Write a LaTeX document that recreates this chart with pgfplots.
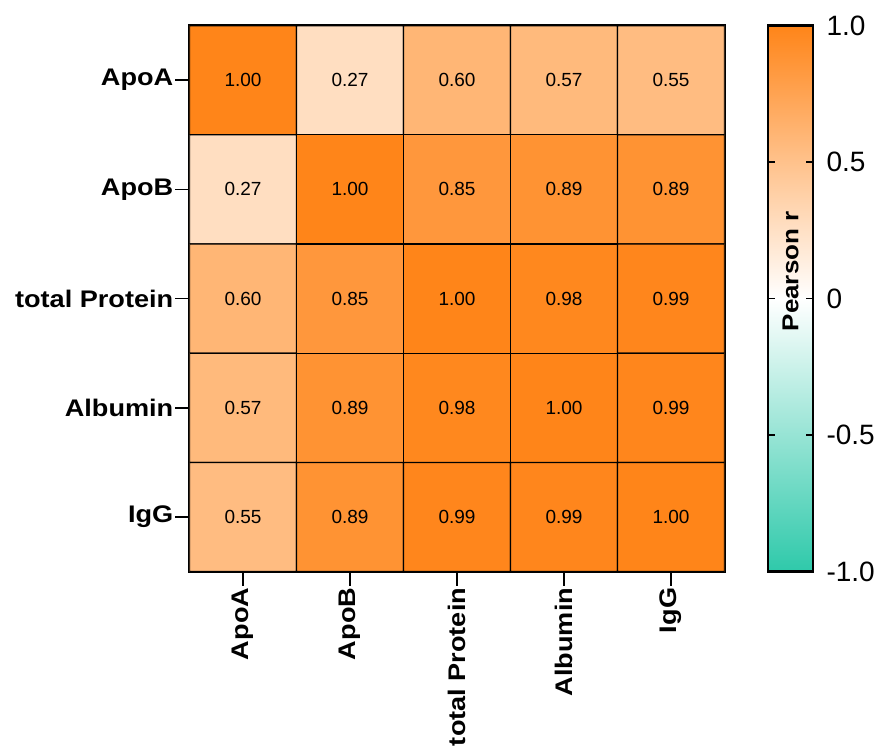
\documentclass[border=0pt]{standalone}
\usepackage{pgfplots}
\pgfplotsset{compat=1.18}
\usepackage{fontspec}
\setmainfont{Liberation Sans}
\newfontfamily\labfont[FakeStretch=1.13]{Liberation Sans}
\pgfplotstableread{
x y r
0 0 1.00
1 0 0.27
2 0 0.60
3 0 0.57
4 0 0.55
0 1 0.27
1 1 1.00
2 1 0.85
3 1 0.89
4 1 0.89
0 2 0.60
1 2 0.85
2 2 1.00
3 2 0.98
4 2 0.99
0 3 0.57
1 3 0.89
2 3 0.98
3 3 1.00
4 3 0.99
0 4 0.55
1 4 0.89
2 4 0.99
3 4 0.99
4 4 1.00
}\corr
\pgfplotstableread{
x y
0 -1
1 -1
0 1
1 1
}\cbar
\pgfplotsset{colormap={pr}{rgb255=(46,201,170) rgb255=(255,255,255) rgb255=(255,133,25)}}
\begin{document}
\begin{tikzpicture}
\path[use as bounding box] (-189.5pt,-177.4pt) rectangle (690.5pt,571.6pt);
\begin{axis}[
  at={(0pt,0pt)}, anchor=south west,
  scale only axis, width=535pt, height=546pt,
  xmin=-0.5, xmax=4.5, ymin=-0.5, ymax=4.5,
  y dir=reverse,
  xtick={0,...,4}, ytick={0,...,4},
  xticklabels={ApoA,ApoB,total Protein,Albumin,IgG},
  yticklabels={ApoA,ApoB,total Protein,Albumin,IgG},
  tick align=outside, major tick length=14pt,
  xtick pos=bottom, ytick pos=left,
  tick style={black, line width=1.6pt},
  axis line style={line width=2.5pt},
  x tick label style={rotate=90, anchor=east, font=\labfont\fontsize{24}{28}\selectfont\bfseries, inner sep=2pt},
  y tick label style={font=\labfont\fontsize{24}{28}\selectfont\bfseries, inner sep=2pt},
  colormap name=pr,
  point meta min=-1, point meta max=1,
]
\addplot[matrix plot*, draw=black, line width=1.3pt, mesh/cols=5, point meta=explicit,
  nodes near coords={\pgfmathprintnumber[fixed,fixed zerofill,precision=2,assume math mode=true]{\pgfplotspointmeta}},
  nodes near coords align=center,
  every node near coord/.append style={font=\fontsize{19}{22}\selectfont, black},
] table[x=x, y=y, meta=r] {\corr};
\end{axis}
\begin{axis}[
  at={(578.5pt,0pt)}, anchor=south west,
  scale only axis, width=45pt, height=546pt,
  xmin=0, xmax=1, ymin=-1, ymax=1,
  xtick=\empty,
  ytick={-1,-0.5,0,0.5,1},
  yticklabels={-1.0,-0.5,0,0.5,1.0},
  tick align=inside, ytick pos=both, yticklabel pos=right,
  major tick length=7pt,
  tick style={black, line width=1.6pt},
  axis line style={line width=2.5pt},
  axis on top,
  y tick label style={font=\fontsize{28}{32}\selectfont, anchor=west, xshift=10pt},
  every axis y label/.style={at={(axis description cs:0.5,0.55)}, anchor=center, rotate=90, font=\labfont\fontsize{23}{26}\selectfont\bfseries},
  ylabel={Pearson r},
  colormap name=pr,
  point meta min=-1, point meta max=1,
]
\addplot[surf, shader=interp, mesh/cols=2, point meta=y] table[x=x, y=y] {\cbar};
\end{axis}
\end{tikzpicture}
\end{document}
